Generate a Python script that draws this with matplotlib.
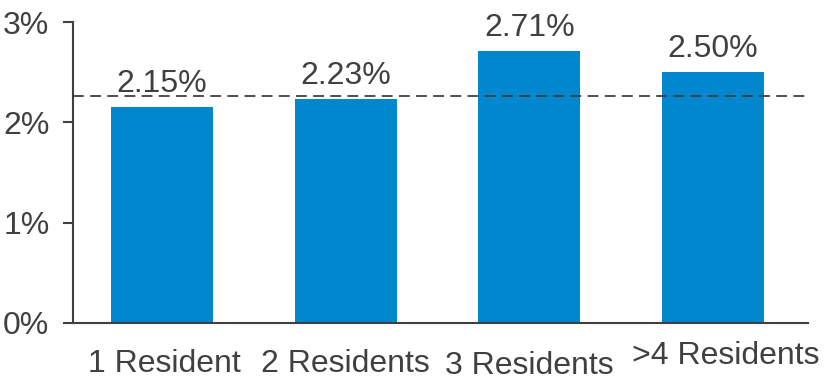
import matplotlib.pyplot as plt
from matplotlib.transforms import ScaledTranslation

# Данные
categories = ['1 Resident', '2 Residents', '3 Residents', '>4 Residents']
values = [2.15, 2.23, 2.71, 2.50]
average = 2.26
yticks = [0, 1, 2, 3]

text_color = '#404040'
bar_color = '#0087CE'

plt.rcParams['font.family'] = ['Liberation Sans', 'DejaVu Sans']

fig = plt.figure(figsize=(8.25, 3.8), dpi=100)
ax = fig.add_axes([0.0885, 0.15, 0.8905, 0.792])

x = range(len(categories))
bars = ax.bar(x, values, width=0.555, color=bar_color, zorder=1)

# Подписи значений над столбцами
for xi, v in zip(x, values):
    ax.annotate(f'{v:.2f}%', (xi, v), xytext=(0, 6), textcoords='offset points',
                ha='center', va='bottom', fontsize=23, color=text_color)

# Средняя линия
ax.axhline(average, color=text_color, lw=1.3, dashes=(6, 3.5), zorder=3)

ax.set_xlim(-0.485, 3.515)
ax.set_ylim(0, 3)
ax.set_yticks(yticks)
ax.set_yticklabels([f'{t}%' for t in yticks])
ax.set_xticks(list(x))
ax.set_xticklabels(categories)

ax.tick_params(axis='y', direction='out', length=7, width=1.5, color=text_color,
               labelsize=23, labelcolor=text_color, pad=10)
ax.tick_params(axis='x', length=0, labelsize=23, labelcolor=text_color, pad=19)

for side in ['top', 'right']:
    ax.spines[side].set_visible(False)
for side in ['left', 'bottom']:
    ax.spines[side].set_color(text_color)
    ax.spines[side].set_linewidth(1.5)

# Подписи по оси X немного смещены
shifts = [(2, 0), (0, 0), (0, -1), (9, 6)]
for lbl, (dx, dy) in zip(ax.get_xticklabels(), shifts):
    lbl.set_transform(lbl.get_transform() +
                      ScaledTranslation(dx / 72, dy / 72, fig.dpi_scale_trans))

plt.savefig('out.png', dpi=100)
